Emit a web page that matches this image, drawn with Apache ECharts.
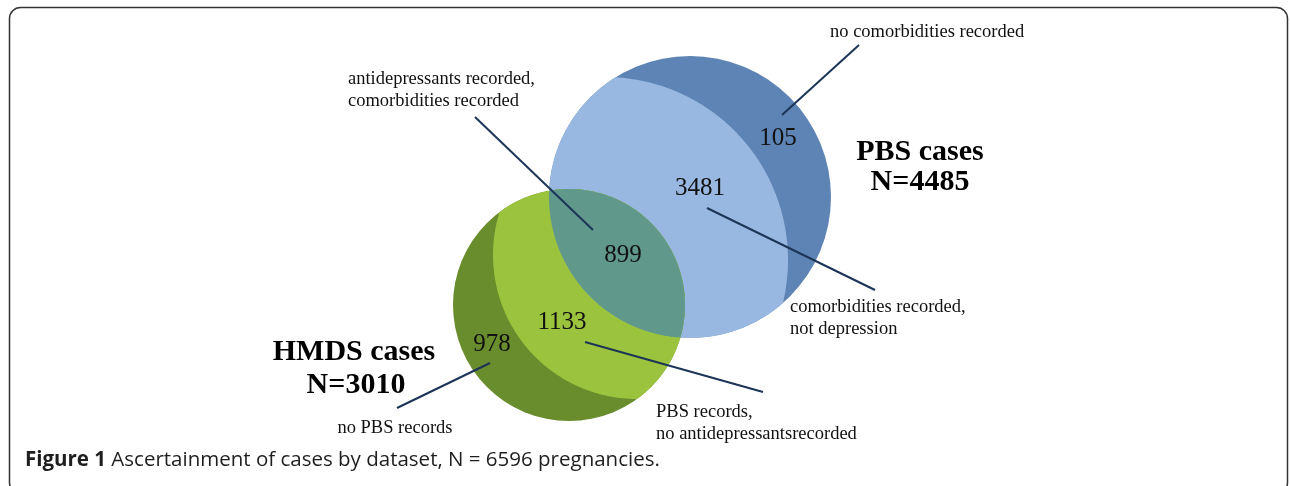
<!DOCTYPE html>
<html>
<head>
<meta charset="utf-8">
<script src="https://cdn.jsdelivr.net/npm/echarts@6/dist/echarts.min.js"></script>
<style>
  html, body { margin: 0; padding: 0; background: #fff; }
  #chart { width: 1290px; height: 486px; }
</style>
</head>
<body>
<div id="chart"></div>
<script>
// ---------- DATA ----------
const regionNames = [
  'no comorbidities recorded',
  'comorbidities recorded,\nnot depression',
  'antidepressants recorded,\ncomorbidities recorded',
  'PBS records,\nno antidepressantsrecorded',
  'no PBS records'
];
const regionValues = [105, 3481, 899, 1133, 978];
const setNames = ['PBS cases', 'HMDS cases'];
const setTotals = [4485, 3010];
const captionLead = 'Figure 1';
const captionText = 'Ascertainment of cases by dataset, N = 6596 pregnancies.';

// ---------- LAYOUT (axis units; axes span the canvas 1:1) ----------
const circles = {
  pbs:       { cx: 690, cy: 197, r: 141 },
  pbsInner:  { cx: 605, cy: 260, r: 183 },
  hmds:      { cx: 569, cy: 305, r: 116 },
  hmdsInner: { cx: 637, cy: 255, r: 144 }
};
const shapeLayers = [
  { circles: ['pbs'],               color: '#5d84b4' },
  { circles: ['pbs', 'pbsInner'],   color: '#98b8e1' },
  { circles: ['hmds'],              color: '#698c2d' },
  { circles: ['hmds', 'hmdsInner'], color: '#9cc33e' },
  { circles: ['hmds', 'pbs'],       color: '#60998c' }
];
const regionLayout = [
  { num: [778, 138], line: [[782, 115], [859, 45]],  note: [830, 32],  align: 'left' },
  { num: [700, 188], line: [[707, 208], [875, 290]], note: [790, 318], align: 'left' },
  { num: [623, 255], line: [[475, 117], [593, 230]], note: [348, 90],  align: 'left' },
  { num: [562, 322], line: [[585, 342], [763, 392]], note: [656, 423], align: 'left' },
  { num: [492, 344], line: [[490, 363], [397, 408]], note: [395, 428], align: 'center' }
];
const setLayout = [
  { name: [920, 152], total: [920, 182] },
  { name: [354, 352], total: [356, 385] }
];

const SERIF = '"Liberation Serif", "Times New Roman", serif';
const LINE_COLOR = '#1c3557';

// ---------- GEOMETRY HELPERS ----------
function toPx(c, api) {
  const p = api.coord([c.cx, c.cy]);
  const r = api.size([c.r, 0])[0];
  return { x: p[0], y: p[1], r: r };
}
function norm(t) { const T = Math.PI * 2; t = t % T; if (t < 0) t += T; return t; }
function arcPts(C, from, to, via, n, out) {
  const t0 = Math.atan2(from[1] - C.y, from[0] - C.x);
  const t1 = Math.atan2(to[1] - C.y, to[0] - C.x);
  let sweep = norm(t1 - t0);
  if (norm(via - t0) > sweep) sweep -= Math.PI * 2;
  for (let i = 0; i <= n; i++) {
    const t = t0 + sweep * i / n;
    out.push([C.x + C.r * Math.cos(t), C.y + C.r * Math.sin(t)]);
  }
}
function lens(A, B, n) {
  const dx = B.x - A.x, dy = B.y - A.y, d = Math.hypot(dx, dy);
  const a = (A.r * A.r - B.r * B.r + d * d) / (2 * d);
  const h = Math.sqrt(Math.max(A.r * A.r - a * a, 0));
  const mx = A.x + a * dx / d, my = A.y + a * dy / d;
  const P1 = [mx - h * dy / d, my + h * dx / d];
  const P2 = [mx + h * dy / d, my - h * dx / d];
  const pts = [];
  arcPts(A, P1, P2, Math.atan2(dy, dx), n, pts);
  arcPts(B, P2, P1, Math.atan2(-dy, -dx), n, pts);
  return pts;
}

// ---------- RENDERERS ----------
function renderShape(params, api) {
  const layer = shapeLayers[params.dataIndex];
  const cs = layer.circles.map(k => toPx(circles[k], api));
  if (cs.length === 1) {
    return { type: 'circle', shape: { cx: cs[0].x, cy: cs[0].y, r: cs[0].r },
             style: { fill: layer.color } };
  }
  return { type: 'polygon', shape: { points: lens(cs[0], cs[1], 180) },
           style: { fill: layer.color } };
}
function renderRegion(params, api) {
  const i = params.dataIndex;
  const L = regionLayout[i];
  const p0 = api.coord(L.line[0]), p1 = api.coord(L.line[1]);
  const pn = api.coord(L.num), pt = api.coord(L.note);
  return {
    type: 'group',
    children: [
      { type: 'line', shape: { x1: p0[0], y1: p0[1], x2: p1[0], y2: p1[1] },
        style: { stroke: LINE_COLOR, lineWidth: 2 } },
      { type: 'text', style: { text: String(api.value(1)), x: pn[0], y: pn[1],
        align: 'center', verticalAlign: 'middle', fill: '#111',
        font: '25px ' + SERIF } },
      { type: 'text', style: { text: regionNames[i], x: pt[0], y: pt[1],
        align: L.align, verticalAlign: 'middle', fill: '#111', lineHeight: 22,
        font: '18.5px ' + SERIF } }
    ]
  };
}
function renderSet(params, api) {
  const i = params.dataIndex;
  const L = setLayout[i];
  const a = api.coord(L.name), b = api.coord(L.total);
  return {
    type: 'group',
    children: [
      { type: 'text', style: { text: setNames[i], x: a[0], y: a[1], align: 'center',
        verticalAlign: 'middle', fill: '#000', font: 'bold 30px ' + SERIF } },
      { type: 'text', style: { text: 'N=' + api.value(1), x: b[0], y: b[1], align: 'center',
        verticalAlign: 'middle', fill: '#000', font: 'bold 30px ' + SERIF } }
    ]
  };
}

// ---------- CHART ----------
const chart = echarts.init(document.getElementById('chart'), null, { renderer: 'canvas' });
chart.setOption({
  animation: false,
  backgroundColor: '#fff',
  title: {
    text: '{b|' + captionLead + '} ' + captionText,
    left: 25, top: 450, padding: 0,
    textStyle: {
      fontFamily: '"Open Sans", sans-serif', fontSize: 20.5, fontWeight: 'normal', color: '#1e1e1e',
      rich: { b: { fontFamily: '"Open Sans", sans-serif', fontSize: 20.5, fontWeight: 'bold', color: '#1e1e1e' } }
    }
  },
  graphic: [{
    type: 'rect', silent: true, z: -10,
    shape: { x: 9.5, y: 7.5, width: 1278, height: 486, r: 11 },
    style: { fill: 'none', stroke: '#333', lineWidth: 1.5 }
  }],
  grid: { left: 0, right: 0, top: 0, bottom: 0 },
  xAxis: { type: 'value', min: 0, max: 1290, show: false },
  yAxis: { type: 'value', min: 0, max: 486, inverse: true, show: false },
  series: [
    { type: 'custom', name: 'areas', renderItem: renderShape, silent: true, z: 1,
      data: shapeLayers.map((s, i) => [i, 0]) },
    { type: 'custom', name: 'regions', renderItem: renderRegion, silent: true, z: 2,
      data: regionValues.map((v, i) => ({ name: regionNames[i], value: [i, v] })) },
    { type: 'custom', name: 'sets', renderItem: renderSet, silent: true, z: 3,
      data: setTotals.map((v, i) => ({ name: setNames[i], value: [i, v] })) }
  ]
});
</script>
</body>
</html>
